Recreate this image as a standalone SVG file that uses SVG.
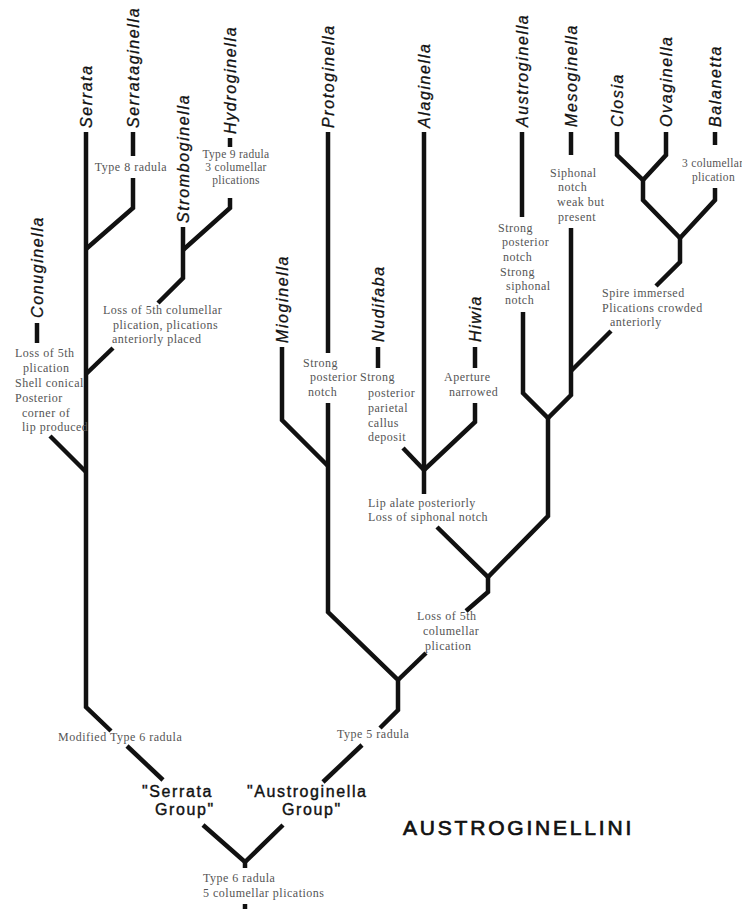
<svg xmlns="http://www.w3.org/2000/svg" width="742" height="909" viewBox="0 0 742 909">
<style>
.e{fill:none;stroke:#111;stroke-width:4.5;stroke-linejoin:miter;stroke-linecap:butt}
.t{font-family:"Liberation Sans",Arial,sans-serif;font-style:italic;font-size:16px;letter-spacing:1.6px;fill:#111;stroke:#111;stroke-width:0.3}
.a{font-family:"Liberation Serif","Times New Roman",serif;font-size:12px;letter-spacing:0.5px;fill:#555}
.s{font-size:11.5px;letter-spacing:0.3px}
.g{font-family:"Liberation Sans",Arial,sans-serif;font-size:16px;letter-spacing:1.6px;fill:#111;stroke:#111;stroke-width:0.4}
.h{font-family:"Liberation Sans",Arial,sans-serif;font-size:21px;letter-spacing:2.8px;fill:#111;stroke:#111;stroke-width:0.7}
</style>
<rect width="742" height="909" fill="#fff"/>
<g id="connectors">
<path class="e" d="M86,132 V707 L111,731"/>
<path class="e" d="M127,746 L163,780"/>
<path class="e" d="M203,825 L245,862 L283,825"/>
<path class="e" d="M245,862 V868"/>
<path class="e" d="M245,904 V909"/>
<path class="e" d="M133,132 V156"/>
<path class="e" d="M133,178 V208 L86,249"/>
<path class="e" d="M230,138 V147"/>
<path class="e" d="M230,198 V208 L183,250"/>
<path class="e" d="M183,227 V278 L158,303"/>
<path class="e" d="M113,348 L86,374"/>
<path class="e" d="M37,323 V343"/>
<path class="e" d="M50,436 L86,472"/>
<path class="e" d="M328,132 V353"/>
<path class="e" d="M328,403 V612 L398,680 V710 L380,728"/>
<path class="e" d="M362,745 L323,782"/>
<path class="e" d="M282,347 V420 L328,466"/>
<path class="e" d="M398,680 L426,653"/>
<path class="e" d="M466,611 L488,592 V577"/>
<path class="e" d="M424,132 V494"/>
<path class="e" d="M437,527 L488,577 L548,516 V418"/>
<path class="e" d="M378,347 V368"/>
<path class="e" d="M403,448 L424,470"/>
<path class="e" d="M475,347 V368"/>
<path class="e" d="M475,403 V422 L424,470"/>
<path class="e" d="M522,132 V217"/>
<path class="e" d="M523,312 V393 L548,418 L571,395 V228"/>
<path class="e" d="M571,132 V155"/>
<path class="e" d="M571,371 L611,331"/>
<path class="e" d="M656,286 L680,262 V238"/>
<path class="e" d="M617,132 V155 L643,180 L666,155 V132"/>
<path class="e" d="M643,180 V200 L680,238 L715,200 V188"/>
<path class="e" d="M715,132 V145"/>
</g>
<g id="taxa">
<g id="conuginella"><text class="t" transform="translate(43,318) rotate(-90)">Conuginella</text></g>
<g id="serrata"><text class="t" transform="translate(92,128) rotate(-90)">Serrata</text></g>
<g id="serrataginella"><text class="t" transform="translate(139,128) rotate(-90)">Serrataginella</text></g>
<g id="stromboginella"><text class="t" transform="translate(189,223) rotate(-90)">Stromboginella</text></g>
<g id="hydroginella"><text class="t" transform="translate(236,134) rotate(-90)">Hydroginella</text></g>
<g id="mioginella"><text class="t" transform="translate(288,343) rotate(-90)">Mioginella</text></g>
<g id="protoginella"><text class="t" transform="translate(334,128) rotate(-90)">Protoginella</text></g>
<g id="nudifaba"><text class="t" transform="translate(384,342) rotate(-90)">Nudifaba</text></g>
<g id="alaginella"><text class="t" transform="translate(430,128) rotate(-90)">Alaginella</text></g>
<g id="hiwia"><text class="t" transform="translate(481,342) rotate(-90)">Hiwia</text></g>
<g id="austroginella"><text class="t" transform="translate(528,127) rotate(-90)">Austroginella</text></g>
<g id="mesoginella"><text class="t" transform="translate(577,127) rotate(-90)">Mesoginella</text></g>
<g id="closia"><text class="t" transform="translate(623,127) rotate(-90)">Closia</text></g>
<g id="ovaginella"><text class="t" transform="translate(672,127) rotate(-90)">Ovaginella</text></g>
<g id="balanetta"><text class="t" transform="translate(721,127) rotate(-90)">Balanetta</text></g>
</g>
<g id="annotations">
<g id="ann-serrataginella"><text class="a" x="131" y="171" text-anchor="middle">Type 8 radula</text></g>
<g id="ann-hydroginella">
<text class="a s" x="236" y="158" text-anchor="middle">Type 9 radula</text>
<text class="a s" x="236" y="171" text-anchor="middle">3 columellar</text>
<text class="a s" x="236" y="184" text-anchor="middle">plications</text>
</g>
<g id="ann-stromboginella">
<text class="a" x="103" y="314">Loss of 5th columellar</text>
<text class="a" x="113" y="329">plication, plications</text>
<text class="a" x="112" y="343">anteriorly placed</text>
</g>
<g id="ann-conuginella">
<text class="a" x="15" y="357">Loss of 5th</text>
<text class="a" x="23" y="372">plication</text>
<text class="a" x="15" y="387">Shell conical</text>
<text class="a" x="15" y="402">Posterior</text>
<text class="a" x="22" y="417">corner of</text>
<text class="a" x="22" y="431">lip produced</text>
</g>
<g id="ann-protoginella">
<text class="a" x="303" y="367">Strong</text>
<text class="a" x="310" y="381">posterior</text>
<text class="a" x="308" y="396">notch</text>
</g>
<g id="ann-nudifaba">
<text class="a" x="360" y="381">Strong</text>
<text class="a" x="368" y="397">posterior</text>
<text class="a" x="368" y="412">parietal</text>
<text class="a" x="368" y="427">callus</text>
<text class="a" x="368" y="441">deposit</text>
</g>
<g id="ann-hiwia">
<text class="a" x="444" y="381">Aperture</text>
<text class="a" x="449" y="396">narrowed</text>
</g>
<g id="ann-lip">
<text class="a" x="368" y="507">Lip alate posteriorly</text>
<text class="a" x="368" y="521">Loss of siphonal notch</text>
</g>
<g id="ann-austroginella">
<text class="a" x="498" y="232">Strong</text>
<text class="a" x="502" y="246">posterior</text>
<text class="a" x="503" y="261">notch</text>
<text class="a" x="500" y="276">Strong</text>
<text class="a" x="506" y="290">siphonal</text>
<text class="a" x="505" y="304">notch</text>
</g>
<g id="ann-mesoginella">
<text class="a" x="550" y="177">Siphonal</text>
<text class="a" x="558" y="191">notch</text>
<text class="a" x="557" y="206">weak but</text>
<text class="a" x="558" y="221">present</text>
</g>
<g id="ann-balanetta">
<text class="a s" x="682" y="167">3 columellar</text>
<text class="a s" x="692" y="181">plication</text>
</g>
<g id="ann-spire">
<text class="a" x="602" y="297">Spire immersed</text>
<text class="a" x="602" y="312">Plications crowded</text>
<text class="a" x="610" y="326">anteriorly</text>
</g>
<g id="ann-loss5">
<text class="a" x="417" y="620">Loss of 5th</text>
<text class="a" x="423" y="635">columellar</text>
<text class="a" x="425" y="650">plication</text>
</g>
<g id="ann-type5"><text class="a" x="337" y="738">Type 5 radula</text></g>
<g id="ann-mod6"><text class="a" x="58" y="741">Modified Type 6 radula</text></g>
<g id="ann-root">
<text class="a" x="203" y="882">Type 6 radula</text>
<text class="a" x="203" y="897">5 columellar plications</text>
</g>
</g>
<g id="serrata-group">
<text class="g" x="142" y="797">"Serrata</text>
<text class="g" x="155" y="815">Group"</text>
</g>
<g id="austroginella-group">
<text class="g" x="247" y="797">"Austroginella</text>
<text class="g" x="282" y="815">Group"</text>
</g>
<g id="title"><text class="h" x="403" y="835">AUSTROGINELLINI</text></g>
</svg>
